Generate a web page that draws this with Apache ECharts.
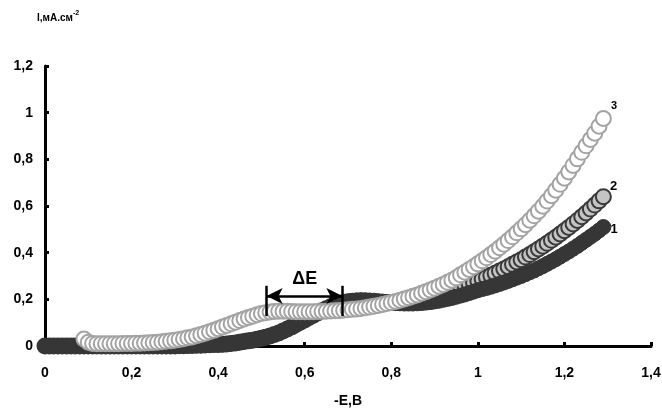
<!DOCTYPE html>
<html>
<head>
<meta charset="utf-8">
<script src="https://cdn.jsdelivr.net/npm/echarts@6/dist/echarts.min.js"></script>
<style>
html,body{margin:0;padding:0;background:#fff;}
#c{width:662px;height:409px;}
</style>
</head>
<body>
<div id="c"></div>
<script>
// Potential grid (-E, V)
const E = [0.00,0.01,0.02,0.03,0.04,0.05,0.06,0.07,0.08,0.09,
0.10,0.11,0.12,0.13,0.14,0.15,0.16,0.17,0.18,0.19,
0.20,0.21,0.22,0.23,0.24,0.25,0.26,0.27,0.28,0.29,
0.30,0.31,0.32,0.33,0.34,0.35,0.36,0.37,0.38,0.39,
0.40,0.41,0.42,0.43,0.44,0.45,0.46,0.47,0.48,0.49,
0.50,0.51,0.52,0.53,0.54,0.55,0.56,0.57,0.58,0.59,
0.60,0.61,0.62,0.63,0.64,0.65,0.66,0.67,0.68,0.69,
0.70,0.71,0.72,0.73,0.74,0.75,0.76,0.77,0.78,0.79,
0.80,0.81,0.82,0.83,0.84,0.85,0.86,0.87,0.88,0.89,
0.90,0.91,0.92,0.93,0.94,0.95,0.96,0.97,0.98,0.99,
1.00,1.01,1.02,1.03,1.04,1.05,1.06,1.07,1.08,1.09,
1.10,1.11,1.12,1.13,1.14,1.15,1.16,1.17,1.18,1.19,
1.20,1.21,1.22,1.23,1.24,1.25,1.26,1.27,1.28,1.29];

// Curve 1 (dark filled)
const curve1 = [0.000,0.000,0.000,0.000,0.000,0.000,0.000,0.000,0.000,0.000,
0.000,0.000,0.000,0.000,0.000,0.000,0.000,0.000,0.000,0.000,
0.000,0.000,0.000,0.000,0.000,0.000,0.000,0.000,0.000,0.000,
0.000,0.001,0.001,0.002,0.002,0.003,0.003,0.004,0.005,0.006,
0.006,0.007,0.009,0.011,0.013,0.016,0.019,0.022,0.025,0.029,
0.033,0.038,0.043,0.049,0.056,0.064,0.073,0.082,0.092,0.102,
0.112,0.122,0.132,0.142,0.151,0.160,0.168,0.175,0.181,0.186,
0.190,0.193,0.195,0.196,0.196,0.195,0.194,0.192,0.190,0.188,
0.186,0.184,0.183,0.182,0.182,0.182,0.183,0.184,0.186,0.188,
0.191,0.194,0.198,0.202,0.206,0.211,0.216,0.221,0.227,0.233,
0.239,0.244,0.249,0.254,0.260,0.266,0.272,0.279,0.286,0.293,
0.300,0.308,0.316,0.324,0.333,0.342,0.352,0.362,0.372,0.383,
0.394,0.405,0.417,0.429,0.442,0.455,0.468,0.481,0.495,0.510];

// Curve 2 (light filled, dark rim)
const curve2 = [0.000,0.000,0.000,0.000,0.000,0.000,0.000,0.000,0.000,0.000,
0.000,0.000,0.000,0.000,0.000,0.000,0.000,0.000,0.000,0.000,
0.000,0.000,0.000,0.000,0.000,0.000,0.000,0.000,0.000,0.000,
0.000,0.001,0.001,0.002,0.002,0.003,0.003,0.004,0.005,0.006,
0.006,0.007,0.009,0.011,0.013,0.016,0.019,0.022,0.025,0.029,
0.033,0.038,0.043,0.049,0.056,0.064,0.073,0.082,0.092,0.102,
0.112,0.122,0.132,0.142,0.151,0.160,0.168,0.175,0.181,0.186,
0.190,0.192,0.193,0.193,0.192,0.191,0.190,0.188,0.187,0.186,
0.186,0.187,0.188,0.190,0.193,0.196,0.200,0.204,0.209,0.214,
0.219,0.225,0.230,0.236,0.242,0.248,0.254,0.260,0.266,0.272,
0.279,0.287,0.295,0.303,0.312,0.321,0.330,0.340,0.350,0.360,
0.370,0.381,0.392,0.404,0.416,0.428,0.440,0.453,0.466,0.480,
0.494,0.508,0.523,0.538,0.554,0.570,0.587,0.604,0.622,0.640];

// Curve 3 (open circles)
const curve3 = [null,null,null,null,null,null,null,null,null,0.030,
0.016,0.011,0.010,0.010,0.010,0.010,0.010,0.010,0.011,0.011,
0.011,0.012,0.012,0.013,0.014,0.015,0.016,0.018,0.020,0.022,
0.025,0.028,0.031,0.035,0.039,0.044,0.049,0.055,0.061,0.067,
0.074,0.081,0.088,0.095,0.102,0.109,0.116,0.122,0.128,0.134,
0.139,0.143,0.146,0.148,0.149,0.149,0.149,0.148,0.147,0.147,
0.147,0.147,0.147,0.148,0.148,0.149,0.150,0.151,0.152,0.153,
0.155,0.157,0.159,0.161,0.164,0.167,0.170,0.174,0.178,0.182,
0.186,0.191,0.196,0.201,0.207,0.213,0.219,0.226,0.233,0.240,
0.248,0.256,0.264,0.273,0.282,0.292,0.305,0.316,0.328,0.340,
0.352,0.365,0.378,0.392,0.406,0.421,0.436,0.452,0.468,0.485,
0.502,0.520,0.539,0.558,0.578,0.599,0.621,0.644,0.668,0.693,
0.719,0.746,0.774,0.802,0.830,0.858,0.885,0.912,0.942,0.975];

const seriesNames = ['1','2','3'];
const xTicks = [0,0.2,0.4,0.6,0.8,1,1.2,1.4];
const yTicks = [0,0.2,0.4,0.6,0.8,1,1.2];

function pts(ys, name, lbl) {
  const out = [];
  for (let i = 0; i < E.length; i++) {
    if (ys[i] === null) continue;
    out.push([E[i], ys[i]]);
  }
  const last = out.length - 1;
  out[last] = {value: out[last], label: Object.assign({show: true, formatter: name, color: '#000', fontWeight: 'bold', fontFamily: 'Liberation Sans, Arial, sans-serif'}, lbl)};
  return out;
}

const fmt = v => String(Math.round(v * 10) / 10).replace('.', ',');
const FONT = 'Liberation Sans, Arial, sans-serif';

const chart = echarts.init(document.getElementById('c'), null, {renderer: 'canvas'});
chart.setOption({
  animation: false,
  backgroundColor: '#fff',
  grid: {left: 45, right: 11, top: 66, bottom: 63, containLabel: false, outerBoundsMode: 'none'},
  graphic: [{
    type: 'text', left: 37, top: 10,
    style: {
      text: '{a|I,мА.см}{s|-2}',
      rich: {
        a: {fontSize: 10, fontWeight: 'bold', fontFamily: FONT, fill: '#000', verticalAlign: 'bottom'},
        s: {fontSize: 7, fontWeight: 'bold', fontFamily: FONT, fill: '#000', padding: [0, 0, 6, 0], verticalAlign: 'bottom'}
      }
    }
  }],
  xAxis: {
    type: 'value', min: 0, max: 1.4, interval: 0.2,
    name: '-E,B', nameLocation: 'middle', nameGap: 48,
    nameTextStyle: {fontSize: 14, fontWeight: 'bold', fontFamily: FONT, color: '#000'},
    axisLine: {lineStyle: {color: '#000', width: 3}},
    axisTick: {inside: true, length: 4, lineStyle: {color: '#000', width: 3}},
    axisLabel: {formatter: fmt, fontSize: 14, fontWeight: 'bold', fontFamily: FONT, color: '#000', margin: 20},
    splitLine: {show: false}
  },
  yAxis: {
    type: 'value', min: 0, max: 1.2, interval: 0.2,
    axisLine: {show: true, lineStyle: {color: '#000', width: 3}},
    axisTick: {show: true, inside: true, length: 4, lineStyle: {color: '#000', width: 3}},
    axisLabel: {formatter: fmt, fontSize: 14, fontWeight: 'bold', fontFamily: FONT, color: '#000', margin: 12},
    splitLine: {show: false}
  },
  series: [
    {
      name: seriesNames[1], type: 'scatter', clip: false, z: 2,
      symbol: 'circle', symbolSize: 15,
      itemStyle: {color: '#c4c4c4', borderColor: '#3a3a3a', borderWidth: 2, opacity: 1},
      data: pts(curve2, seriesNames[1], {position: 'right', offset: [-7, -10], fontSize: 13})
    },
    {
      name: seriesNames[0], type: 'scatter', clip: false, z: 3,
      symbol: 'circle', symbolSize: 15,
      itemStyle: {color: '#363636', borderColor: '#363636', borderWidth: 1, opacity: 1},
      data: pts(curve1, seriesNames[0], {position: 'right', offset: [-6, 2], fontSize: 13})
    },
    {
      name: seriesNames[2], type: 'scatter', clip: false, z: 4,
      symbol: 'circle', symbolSize: 15,
      itemStyle: {color: '#ffffff', borderColor: '#a3a3a3', borderWidth: 2, opacity: 1},
      data: pts(curve3, seriesNames[2], {position: 'right', offset: [-6, -13], fontSize: 11}),
      markLine: {
        silent: true, animation: false,
        symbol: ['arrow', 'arrow'], symbolSize: [12, 16],
        label: {show: false},
        lineStyle: {color: '#000', width: 2.5, type: 'solid'},
        data: [
          [{coord: [0.512, 0.214]}, {coord: [0.687, 0.214]}],
          [{coord: [0.512, 0.128], symbol: 'none'}, {coord: [0.512, 0.258], symbol: 'none'}],
          [{coord: [0.687, 0.128], symbol: 'none'}, {coord: [0.687, 0.258], symbol: 'none'}]
        ]
      },
      markPoint: {
        silent: true, animation: false,
        symbol: 'circle', symbolSize: 1, itemStyle: {color: 'rgba(0,0,0,0)'},
        label: {show: true, formatter: 'ΔE', position: 'inside', fontSize: 18, fontWeight: 'bold', fontFamily: FONT, color: '#000'},
        data: [{coord: [0.6, 0.285]}]
      }
    }
  ]
});
</script>
</body>
</html>
